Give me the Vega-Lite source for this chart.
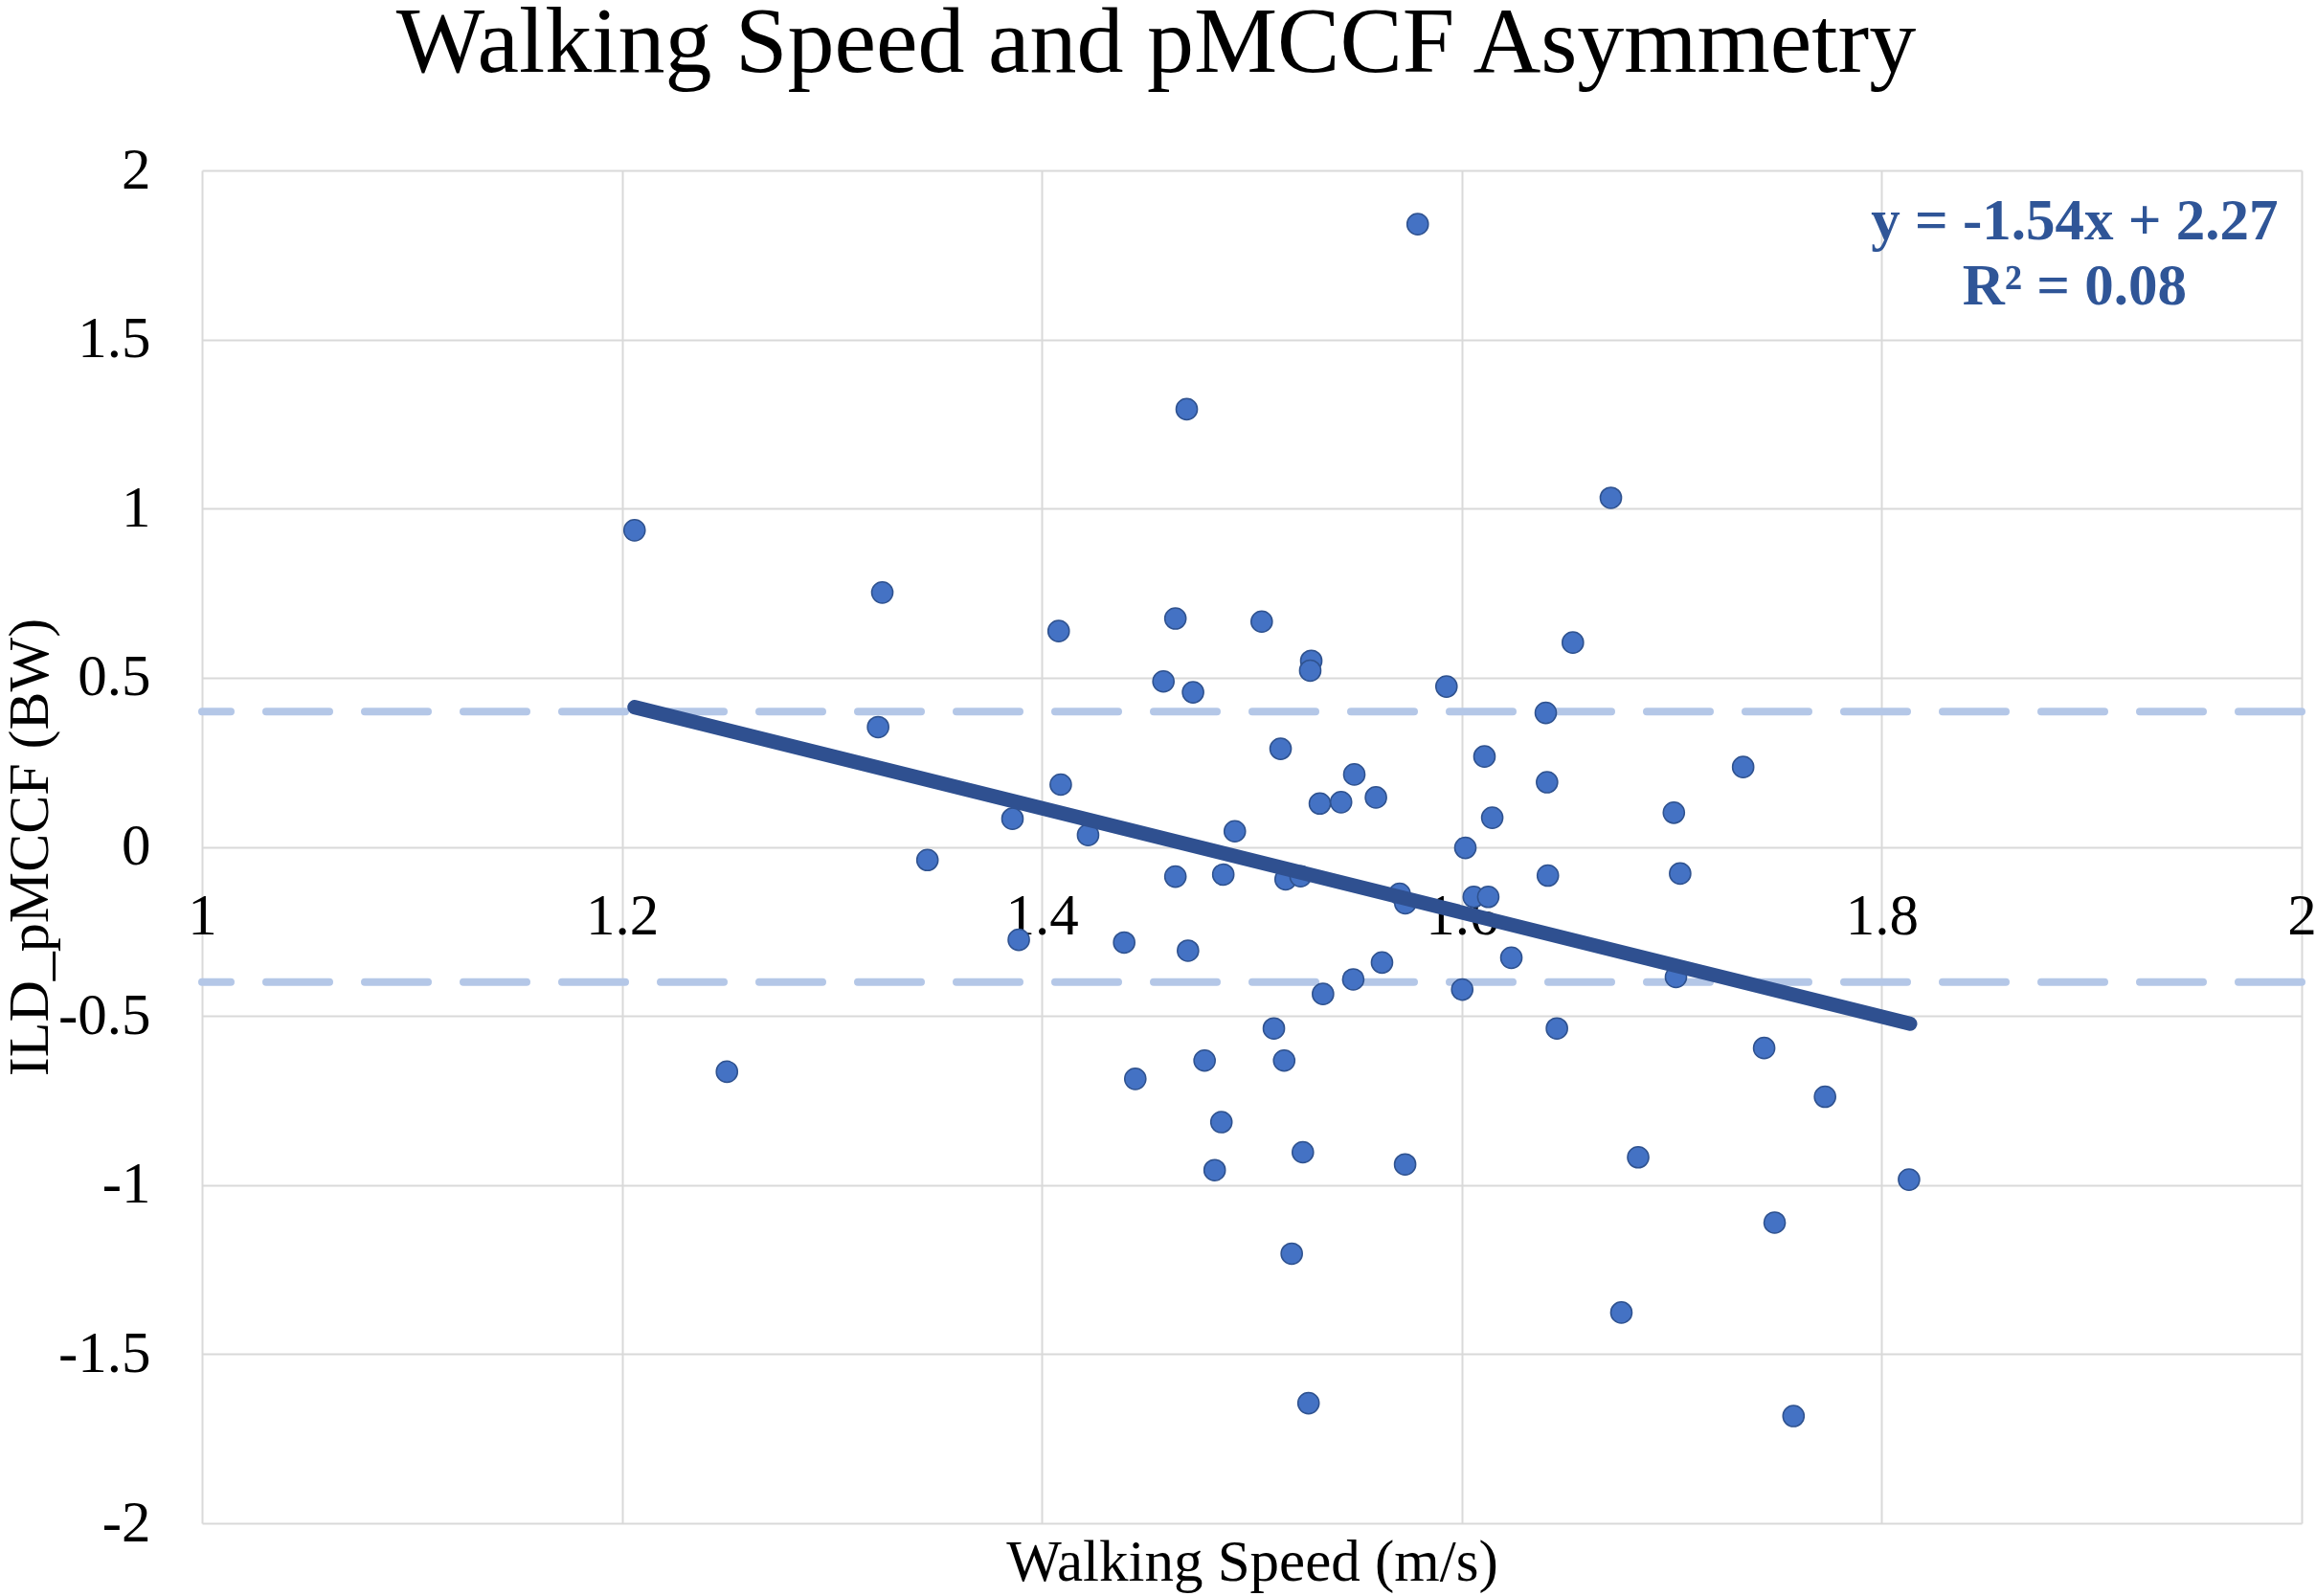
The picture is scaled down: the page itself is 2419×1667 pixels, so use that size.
{
  "$schema": "https://vega.github.io/schema/vega-lite/v6.json",
  "width": 2193,
  "height": 1413,
  "autosize": {"type": "none"},
  "padding": {"left": 211, "top": 178, "right": 15, "bottom": 76},
  "background": "white",
  "title": {
    "text": "Walking Speed and pMCCF Asymmetry",
    "font": "Liberation Serif",
    "fontSize": 98,
    "fontWeight": "normal",
    "color": "black",
    "anchor": "middle",
    "dx": -100,
    "dy": 84,
    "baseline": "alphabetic",
    "offset": 58
  },
  "config": {"view": {"stroke": null}},
  "datasets": {
    "points": [
      {"x": 1.206, "y": 0.936}, {"x": 1.250, "y": -0.665}, {"x": 1.324, "y": 0.752}, {"x": 1.322, "y": 0.354},
      {"x": 1.3455, "y": -0.039}, {"x": 1.386, "y": 0.083}, {"x": 1.389, "y": -0.275}, {"x": 1.408, "y": 0.638},
      {"x": 1.409, "y": 0.184}, {"x": 1.422, "y": 0.035}, {"x": 1.4392, "y": -0.283}, {"x": 1.4445, "y": -0.686},
      {"x": 1.4579, "y": 0.489}, {"x": 1.4636, "y": 0.675}, {"x": 1.469, "y": 1.294}, {"x": 1.472, "y": 0.457},
      {"x": 1.4636, "y": -0.088}, {"x": 1.4696, "y": -0.307}, {"x": 1.4775, "y": -0.632}, {"x": 1.4855, "y": -0.814},
      {"x": 1.4823, "y": -0.956}, {"x": 1.4864, "y": -0.082}, {"x": 1.4919, "y": 0.046}, {"x": 1.5047, "y": 0.666},
      {"x": 1.5105, "y": -0.537}, {"x": 1.5137, "y": 0.290}, {"x": 1.5154, "y": -0.632}, {"x": 1.5161, "y": -0.096},
      {"x": 1.5232, "y": -0.087}, {"x": 1.5243, "y": -0.903}, {"x": 1.5190, "y": -1.203}, {"x": 1.5270, "y": -1.645},
      {"x": 1.5283, "y": 0.550}, {"x": 1.5278, "y": 0.521}, {"x": 1.5324, "y": 0.128}, {"x": 1.5339, "y": -0.435},
      {"x": 1.5425, "y": 0.132}, {"x": 1.5488, "y": 0.214}, {"x": 1.5483, "y": -0.392}, {"x": 1.5591, "y": 0.146},
      {"x": 1.5620, "y": -0.342}, {"x": 1.5704, "y": -0.139}, {"x": 1.5731, "y": -0.167}, {"x": 1.5730, "y": -0.939},
      {"x": 1.579, "y": 1.841}, {"x": 1.5927, "y": 0.474}, {"x": 1.6002, "y": -0.422}, {"x": 1.6017, "y": -0.003},
      {"x": 1.6057, "y": -0.148}, {"x": 1.6108, "y": 0.267}, {"x": 1.6126, "y": -0.148}, {"x": 1.6145, "y": 0.086},
      {"x": 1.6236, "y": -0.328}, {"x": 1.6400, "y": 0.396}, {"x": 1.6406, "y": 0.191}, {"x": 1.6410, "y": -0.085},
      {"x": 1.6453, "y": -0.537}, {"x": 1.6529, "y": 0.604}, {"x": 1.671, "y": 1.032}, {"x": 1.676, "y": -1.377},
      {"x": 1.684, "y": -0.918}, {"x": 1.701, "y": 0.101}, {"x": 1.702, "y": -0.385}, {"x": 1.704, "y": -0.079},
      {"x": 1.734, "y": 0.236}, {"x": 1.744, "y": -0.595}, {"x": 1.749, "y": -1.111}, {"x": 1.758, "y": -1.683},
      {"x": 1.773, "y": -0.739}, {"x": 1.813, "y": -0.984}
    ],
    "limits": [{"y": 0.4}, {"y": -0.4}],
    "trend": [{"x": 1.206, "y": 0.413}, {"x": 1.8135, "y": -0.523}],
    "equation": [
      {"x": 1.8919, "y": 1.7954, "label": "y = -1.54x + 2.27"},
      {"x": 1.8919, "y": 1.6029, "label": "R² = 0.08"}
    ]
  },
  "layer": [
    {
      "data": {"name": "limits"},
      "mark": {"type": "rule", "color": "#B4C7E7", "strokeWidth": 8, "strokeDash": [66, 37], "strokeCap": "round"},
      "encoding": {
        "y": {"field": "y", "type": "quantitative", "title": "ILD_pMCCF (BW)"}
      }
    },
    {
      "data": {"name": "points"},
      "mark": {"type": "circle", "size": 490, "fill": "#4472C4", "stroke": "#2F528F", "strokeWidth": 1.5, "opacity": 1},
      "encoding": {
        "x": {
          "field": "x", "type": "quantitative",
          "scale": {"domain": [1, 2], "nice": false, "zero": false},
          "axis": {
            "values": [1, 1.2, 1.4, 1.6, 1.8, 2],
            "labelExpr": "'' + datum.value",
            "offset": -706.5,
            "grid": true, "gridColor": "#D9D9D9", "gridWidth": 2,
            "domain": false, "ticks": false,
            "labelFont": "Liberation Serif", "labelFontSize": 61, "labelColor": "black",
            "labelPadding": 43, "labelFlush": false, "labelOverlap": false, "labelBound": false,
            "title": "Walking Speed (m/s)",
            "titleFont": "Liberation Serif", "titleFontSize": 61, "titleFontWeight": "normal", "titleColor": "black",
            "titleBaseline": "alphabetic", "titleY": 766
          }
        },
        "y": {
          "field": "y", "type": "quantitative",
          "scale": {"domain": [-2, 2], "nice": false, "zero": false},
          "axis": {
            "values": [-2, -1.5, -1, -0.5, 0, 0.5, 1, 1.5, 2],
            "labelExpr": "'' + datum.value",
            "grid": true, "gridColor": "#D9D9D9", "gridWidth": 2,
            "domain": false, "ticks": false,
            "labelFont": "Liberation Serif", "labelFontSize": 61, "labelColor": "black",
            "labelPadding": 54, "labelFlush": false, "labelOverlap": false, "labelBound": false,
            "title": "ILD_pMCCF (BW)",
            "titleFont": "Liberation Serif", "titleFontSize": 60, "titleFontWeight": "normal", "titleColor": "black",
            "titleAngle": -90, "titleBaseline": "alphabetic", "titleAlign": "center",
            "titleX": -162, "titleY": 706.5
          }
        }
      }
    },
    {
      "data": {"name": "trend"},
      "mark": {"type": "line", "color": "#2F5090", "strokeWidth": 15, "strokeCap": "round"},
      "encoding": {
        "x": {"field": "x", "type": "quantitative", "title": "Walking Speed (m/s)"},
        "y": {"field": "y", "type": "quantitative", "title": "ILD_pMCCF (BW)"}
      }
    },
    {
      "data": {"name": "equation"},
      "mark": {"type": "text", "font": "Liberation Serif", "fontWeight": "bold", "fontSize": 61, "color": "#2F5597", "align": "center", "baseline": "alphabetic"},
      "encoding": {
        "x": {"field": "x", "type": "quantitative", "title": "Walking Speed (m/s)"},
        "y": {"field": "y", "type": "quantitative", "title": "ILD_pMCCF (BW)"},
        "text": {"field": "label", "type": "nominal"}
      }
    }
  ]
}
